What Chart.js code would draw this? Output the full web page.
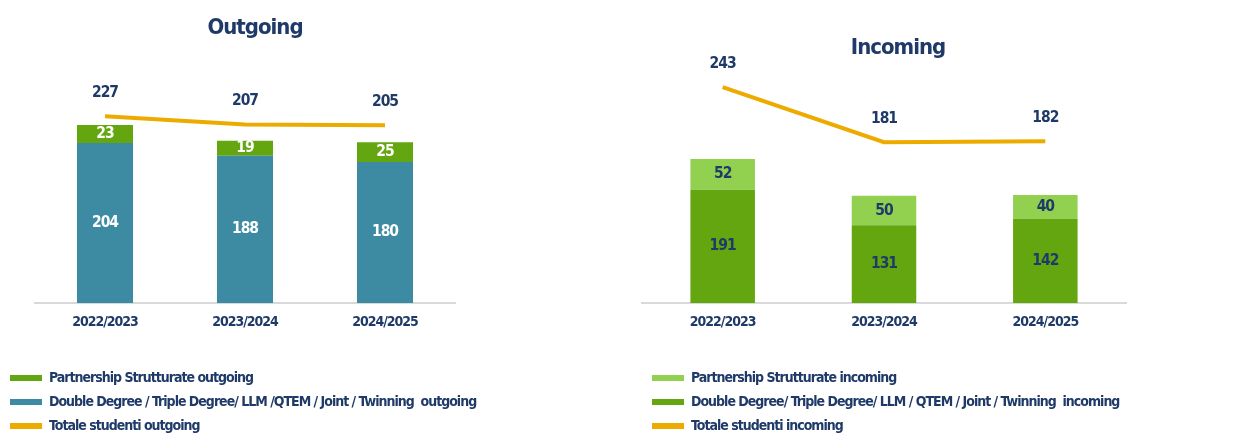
<!DOCTYPE html>
<html>
<head>
<meta charset="utf-8">
<script src="https://cdn.jsdelivr.net/npm/chart.js@4.4.1/dist/chart.umd.min.js"></script>
<style>
  html, body { margin: 0; padding: 0; background: #fff; width: 1254px; height: 442px; overflow: hidden; position: relative; }
  .box { position: absolute; top: 0; height: 450px; }
  #outBox { left: 0; width: 510px; }
  #inBox { left: 590px; width: 616px; }
</style>
</head>
<body>
<div class="box" id="outBox"><canvas id="outChart"></canvas></div>
<div class="box" id="inBox"><canvas id="inChart"></canvas></div>
<script>
// ---- data ----
const YEARS = ["2022/2023", "2023/2024", "2024/2025"];

const OUT_PARTNERSHIP = [23, 19, 25];
const OUT_DOUBLE = [204, 188, 180];
const OUT_TOTAL = [227, 207, 205];
const OUT_NAMES = [
  "Partnership Strutturate outgoing",
  "Double Degree / Triple Degree/ LLM /QTEM / Joint / Twinning  outgoing",
  "Totale studenti outgoing",
];

const IN_PARTNERSHIP = [52, 50, 40];
const IN_DOUBLE = [191, 131, 142];
const IN_TOTAL = [243, 181, 182];
const IN_NAMES = [
  "Partnership Strutturate incoming",
  "Double Degree/ Triple Degree/ LLM / QTEM / Joint / Twinning  incoming",
  "Totale studenti incoming",
];

const NAVY = "#1f3a68";
const TEAL = "#3d8ba3";
const GREEN = "#63a60f";
const LIGHT_GREEN = "#92d050";
const ORANGE = "#edab00";
const FONT = '"DejaVu Sans Condensed", "Liberation Sans", sans-serif';
const LETTER_SPACING = "-1px";   // the original uses a narrow DIN-like face

Chart.defaults.font.family = FONT;
Chart.defaults.font.weight = "bold";
Chart.defaults.color = NAVY;

// squeeze the text a bit; canvas resets its state on resize so set it each pass
const tightText = {
  id: "tightText",
  beforeUpdate(chart) { chart.ctx.letterSpacing = LETTER_SPACING; },
  beforeDraw(chart) { chart.ctx.letterSpacing = LETTER_SPACING; },
};

// numbers inside the bar segments and above the total line
const valueLabels = {
  id: "valueLabels",
  afterDatasetsDraw(chart, args, opts) {
    const ctx = chart.ctx;
    ctx.save();
    ctx.font = `bold ${opts.size}px ${FONT}`;
    ctx.textAlign = "center";
    ctx.textBaseline = "middle";
    chart.data.datasets.forEach((ds, i) => {
      chart.getDatasetMeta(i).data.forEach((el, j) => {
        if (ds.type === "line") {
          ctx.fillStyle = NAVY;
          ctx.fillText(ds.data[j], el.x, el.y - opts.lineGap);
        } else {
          ctx.fillStyle = opts.barColor;
          ctx.fillText(ds.data[j], el.x, (el.y + el.base) / 2);
        }
      });
    });
    ctx.restore();
  },
};

const hidden = (w) => ({
  grid: { display: false, drawTicks: false },
  border: { display: false },
  ticks: { display: false },
  afterFit(s) { s.width = w; },
});

function makeChart(id, o) {
  const legendRank = [1, 0, 2];   // partnership first in legend, but stacked on top
  return new Chart(document.getElementById(id), {
    data: {
      labels: YEARS,
      datasets: [
        { type: "bar", label: o.names[1], data: o.double, backgroundColor: o.doubleColor,
          barPercentage: 0.4, categoryPercentage: 1, yAxisID: "y" },
        { type: "bar", label: o.names[0], data: o.partnership, backgroundColor: o.partnerColor,
          barPercentage: 0.4, categoryPercentage: 1, yAxisID: "y" },
        { type: "line", label: o.names[2], data: o.total, borderColor: ORANGE, backgroundColor: ORANGE,
          borderWidth: 4, pointRadius: 0, tension: 0, clip: false, yAxisID: "y2" },
      ],
    },
    options: {
      responsive: true,
      maintainAspectRatio: false,
      animation: false,
      layout: { padding: { top: 0, bottom: 7, left: 0, right: 0 } },
      plugins: {
        title: { display: true, text: o.title, font: { size: 22, weight: "bold" }, color: NAVY,
          padding: { top: o.titleTop, bottom: o.titleBottom } },
        legend: {
          position: "bottom", align: "start", fullSize: o.legendFull,
          labels: {
            boxWidth: 32, boxHeight: 6, padding: 10, color: NAVY,
            font: { size: 14, weight: "bold" },
            sort: (a, b) => legendRank[a.datasetIndex] - legendRank[b.datasetIndex],
            generateLabels(chart) {
              return Chart.defaults.plugins.legend.labels.generateLabels(chart).map((it) => {
                const ds = chart.data.datasets[it.datasetIndex];
                it.fillStyle = ds.type === "line" ? ds.borderColor : ds.backgroundColor;
                it.strokeStyle = "rgba(0,0,0,0)";
                it.lineWidth = 0;
                return it;
              });
            },
          },
        },
        tooltip: { enabled: false },
        valueLabels: { size: 15.5, barColor: o.barTextColor, lineGap: 23.5 },
      },
      scales: {
        x: {
          stacked: true,
          grid: { display: false, drawTicks: false },
          border: { display: true, color: "#d9d9d9", width: 2 },
          ticks: { padding: 11, color: NAVY, font: { size: 14, weight: "bold" } },
          afterFit(s) { s.height = 58; },
        },
        y: { stacked: true, min: 0, max: o.yMax, ...hidden(o.leftW) },
        y2: { position: "right", min: o.y2Min, max: o.y2Max, ...hidden(o.rightW) },
      },
    },
    plugins: [tightText, valueLabels],
  });
}

makeChart("outChart", {
  title: "Outgoing", titleTop: 15.5, titleBottom: 18.1,
  names: OUT_NAMES, double: OUT_DOUBLE, partnership: OUT_PARTNERSHIP, total: OUT_TOTAL,
  doubleColor: TEAL, partnerColor: GREEN, barTextColor: "#ffffff",
  yMax: 310, y2Min: -230, y2Max: 365, leftW: 35, rightW: 55, legendFull: true,
});

makeChart("inChart", {
  title: "Incoming", titleTop: 35.5, titleBottom: 18.1,
  names: IN_NAMES, double: IN_DOUBLE, partnership: IN_PARTNERSHIP, total: IN_TOTAL,
  doubleColor: GREEN, partnerColor: LIGHT_GREEN, barTextColor: NAVY,
  yMax: 376, y2Min: 0, y2Max: 251, leftW: 52, rightW: 80, legendFull: false,
});
</script>
</body>
</html>
